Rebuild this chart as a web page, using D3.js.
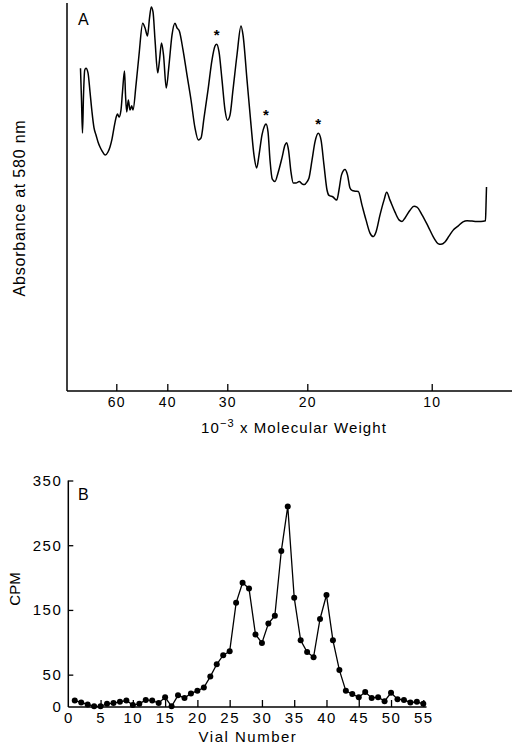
<!DOCTYPE html>
<html>
<head>
<meta charset="utf-8">
<script src="https://cdn.jsdelivr.net/npm/d3@7"></script>
<style>
  html, body { margin: 0; padding: 0; background: #fff; }
  svg { display: block; }
  text { font-family: "Liberation Sans", Arial, Helvetica, sans-serif; fill: #000; }
</style>
</head>
<body>
<svg id="chart" width="512" height="746"></svg>
<script>
// ---------- Panel A : densitometer scan (migration distance in cm, absorbance in relative units)
const traceDistance = [0.303,0.326,0.348,0.371,0.398,0.427,0.472,0.517,0.562,0.607,0.652,0.697,0.742,0.787,0.861,0.921,0.966,1.011,1.056,1.101,1.135,1.169,1.213,1.247,1.292,1.315,1.342,1.378,1.416,1.454,1.483,1.551,1.618,1.701,1.753,1.809,1.854,1.894,1.933,1.978,2.038,2.079,2.124,2.169,2.231,2.292,2.360,2.427,2.472,2.524,2.607,2.697,2.787,2.876,2.951,3.011,3.079,3.169,3.258,3.326,3.364,3.416,3.483,3.551,3.607,3.663,3.730,3.820,3.910,3.955,4.045,4.135,4.202,4.263,4.315,4.382,4.438,4.472,4.517,4.562,4.613,4.674,4.742,4.831,4.899,4.937,4.978,5.034,5.085,5.146,5.220,5.281,5.337,5.393,5.438,5.506,5.573,5.647,5.708,5.775,5.843,5.888,5.978,6.061,6.112,6.169,6.247,6.303,6.360,6.404,6.472,6.546,6.629,6.719,6.809,6.883,6.944,7.034,7.124,7.184,7.258,7.371,7.461,7.528,7.596,7.708,7.798,7.865,7.978,8.112,8.247,8.337,8.404,8.494,8.584,8.674,8.787,8.899,8.989,9.101,9.202,9.303,9.404,9.416,9.427];
const traceAbsorbance = [0.832,0.750,0.665,0.763,0.827,0.832,0.820,0.771,0.719,0.678,0.660,0.642,0.629,0.619,0.608,0.616,0.629,0.649,0.678,0.704,0.714,0.706,0.724,0.771,0.825,0.763,0.719,0.750,0.724,0.735,0.724,0.789,0.866,0.948,0.936,0.915,0.961,0.990,0.977,0.905,0.820,0.853,0.897,0.866,0.781,0.840,0.918,0.948,0.936,0.928,0.879,0.814,0.750,0.678,0.647,0.652,0.704,0.776,0.853,0.889,0.894,0.874,0.802,0.724,0.698,0.711,0.776,0.866,0.941,0.918,0.802,0.686,0.608,0.575,0.608,0.660,0.683,0.688,0.668,0.595,0.546,0.540,0.562,0.601,0.634,0.640,0.621,0.564,0.536,0.536,0.540,0.534,0.532,0.539,0.549,0.595,0.642,0.664,0.647,0.582,0.518,0.504,0.500,0.492,0.518,0.557,0.571,0.557,0.523,0.517,0.515,0.514,0.479,0.441,0.407,0.398,0.410,0.454,0.492,0.512,0.492,0.461,0.441,0.437,0.446,0.466,0.476,0.474,0.454,0.425,0.394,0.380,0.378,0.384,0.399,0.414,0.425,0.436,0.439,0.438,0.437,0.437,0.439,0.479,0.526];
// molecular weight markers (x 10^-3) and their migration distances
const mwTickLabels = ["60","40","30","20","10"];
const mwTickDistance = [1.108,2.254,3.602,5.400,8.196];
// peaks marked with an asterisk
const starDistance = [3.364,4.472,5.647];
const starAbsorbance = [0.894,0.688,0.664];

// ---------- Panel B : radioactivity per vial
const vials = d3.range(1, 56);
const cpm = [10,7,4,1,1,5,6,8,10,3,5,11,10,6,15,1,18,14,21,25,30,47,66,80,86,161,192,183,112,99,129,141,241,310,169,103,85,77,136,173,103,57,25,20,15,23,14,15,9,22,12,11,7,8,5];
const cpmTicks = [0,50,150,250,350];
const vialTicks = d3.range(0, 56, 5);

const svg = d3.select("#chart");

// ===== Panel A =====
const xA = d3.scaleLinear().domain([0, 10]).range([67, 512]);
const yA = d3.scaleLinear().domain([0, 1]).range([391, 3]);

const gA = svg.append("g");
gA.append("line").attr("x1", xA(0)).attr("x2", xA(0)).attr("y1", yA(1)).attr("y2", yA(0))
  .attr("stroke", "#000").attr("stroke-width", 1.5);
gA.append("line").attr("x1", xA(0)).attr("x2", xA(10)).attr("y1", yA(0)).attr("y2", yA(0))
  .attr("stroke", "#000").attr("stroke-width", 1.5);

const axA = d3.axisBottom(xA).tickValues(mwTickDistance)
  .tickFormat((d, i) => mwTickLabels[i]).tickSizeInner(-7).tickSizeOuter(0).tickPadding(6);
const gAx = gA.append("g").attr("transform", `translate(0,${yA(0)})`).call(axA);
gAx.select(".domain").remove();
gAx.selectAll(".tick line").attr("stroke", "#000").attr("stroke-width", 1.3);
gAx.selectAll(".tick text").attr("font-size", 14).attr("letter-spacing", 1.2)
  .attr("font-family", "'Liberation Sans', Arial, sans-serif").attr("fill", "#000");

const traceData = traceDistance.map((d, i) => [d, traceAbsorbance[i]]);
gA.append("path").datum(traceData)
  .attr("fill", "none").attr("stroke", "#000").attr("stroke-width", 1.5)
  .attr("stroke-linejoin", "round")
  .attr("d", d3.line().x(d => xA(d[0])).y(d => yA(d[1])).curve(d3.curveMonotoneX));

gA.selectAll(".star").data(starDistance).enter().append("text")
  .attr("x", d => xA(d)).attr("y", (d, i) => yA(starAbsorbance[i]) - 4)
  .attr("text-anchor", "middle").attr("font-size", 15).attr("font-weight", "bold")
  .text("*");

gA.append("text").attr("x", 78).attr("y", 25).attr("font-size", 16).text("A");

gA.append("text")
  .attr("transform", `translate(25,${(yA(0) + yA(1)) / 2 + 11}) rotate(-90)`)
  .attr("text-anchor", "middle").attr("font-size", 16).attr("letter-spacing", 0.8)
  .text("Absorbance at 580 nm");

const xl = gA.append("text").attr("x", 294).attr("y", 433).attr("text-anchor", "middle")
  .attr("font-size", 15).attr("letter-spacing", 1.1);
xl.append("tspan").text("10");
xl.append("tspan").attr("dy", -6).attr("font-size", 11).text("−3");
xl.append("tspan").attr("dy", 6).text(" x Molecular Weight");

// ===== Panel B =====
const xB = d3.scaleLinear().domain([0, 55]).range([68.3, 423.3]);
const yB = d3.scaleLinear().domain([0, 350]).range([707, 480.5]);
const gB = svg.append("g");

gB.append("line").attr("x1", xB(0)).attr("x2", xB(0)).attr("y1", yB(350)).attr("y2", yB(0))
  .attr("stroke", "#000").attr("stroke-width", 1.5);
gB.append("line").attr("x1", xB(0)).attr("x2", xB(55.5)).attr("y1", yB(0)).attr("y2", yB(0))
  .attr("stroke", "#000").attr("stroke-width", 1.5);

const axBx = d3.axisBottom(xB).tickValues(vialTicks).tickSizeInner(-7).tickSizeOuter(0).tickPadding(5);
const gBx = gB.append("g").attr("transform", `translate(0,${yB(0)})`).call(axBx);
gBx.select(".domain").remove();
gBx.selectAll(".tick line").attr("stroke", "#000").attr("stroke-width", 1.3)
  .attr("display", d => d === 0 ? "none" : null);
gBx.selectAll(".tick text").attr("font-size", 15).attr("letter-spacing", 1.5)
  .attr("font-family", "'Liberation Sans', Arial, sans-serif").attr("fill", "#000");

const axBy = d3.axisLeft(yB).tickValues(cpmTicks).tickSizeInner(-5).tickSizeOuter(0).tickPadding(6);
const gBy = gB.append("g").attr("transform", `translate(${xB(0)},0)`).call(axBy);
gBy.select(".domain").remove();
gBy.selectAll(".tick line").attr("stroke", "#000").attr("stroke-width", 1.3)
  .attr("display", d => d === 0 ? "none" : null);
gBy.selectAll(".tick text").attr("font-size", 15).attr("letter-spacing", 1.5)
  .attr("font-family", "'Liberation Sans', Arial, sans-serif").attr("fill", "#000");

const bData = vials.map((v, i) => [v, cpm[i]]);
gB.append("path").datum(bData).attr("fill", "none").attr("stroke", "#000").attr("stroke-width", 1.3)
  .attr("d", d3.line().x(d => xB(d[0])).y(d => yB(d[1])));
gB.selectAll(".dot").data(bData).enter().append("circle")
  .attr("cx", d => xB(d[0])).attr("cy", d => yB(d[1])).attr("r", 3).attr("fill", "#000");

gB.append("text").attr("x", 78).attr("y", 500).attr("font-size", 16).text("B");
gB.append("text").attr("transform", `translate(20,${589}) rotate(-90)`)
  .attr("text-anchor", "middle").attr("font-size", 15).text("CPM");
gB.append("text").attr("x", 248).attr("y", 742).attr("text-anchor", "middle")
  .attr("font-size", 15).attr("letter-spacing", 1.5).text("Vial Number");
</script>
</body>
</html>
